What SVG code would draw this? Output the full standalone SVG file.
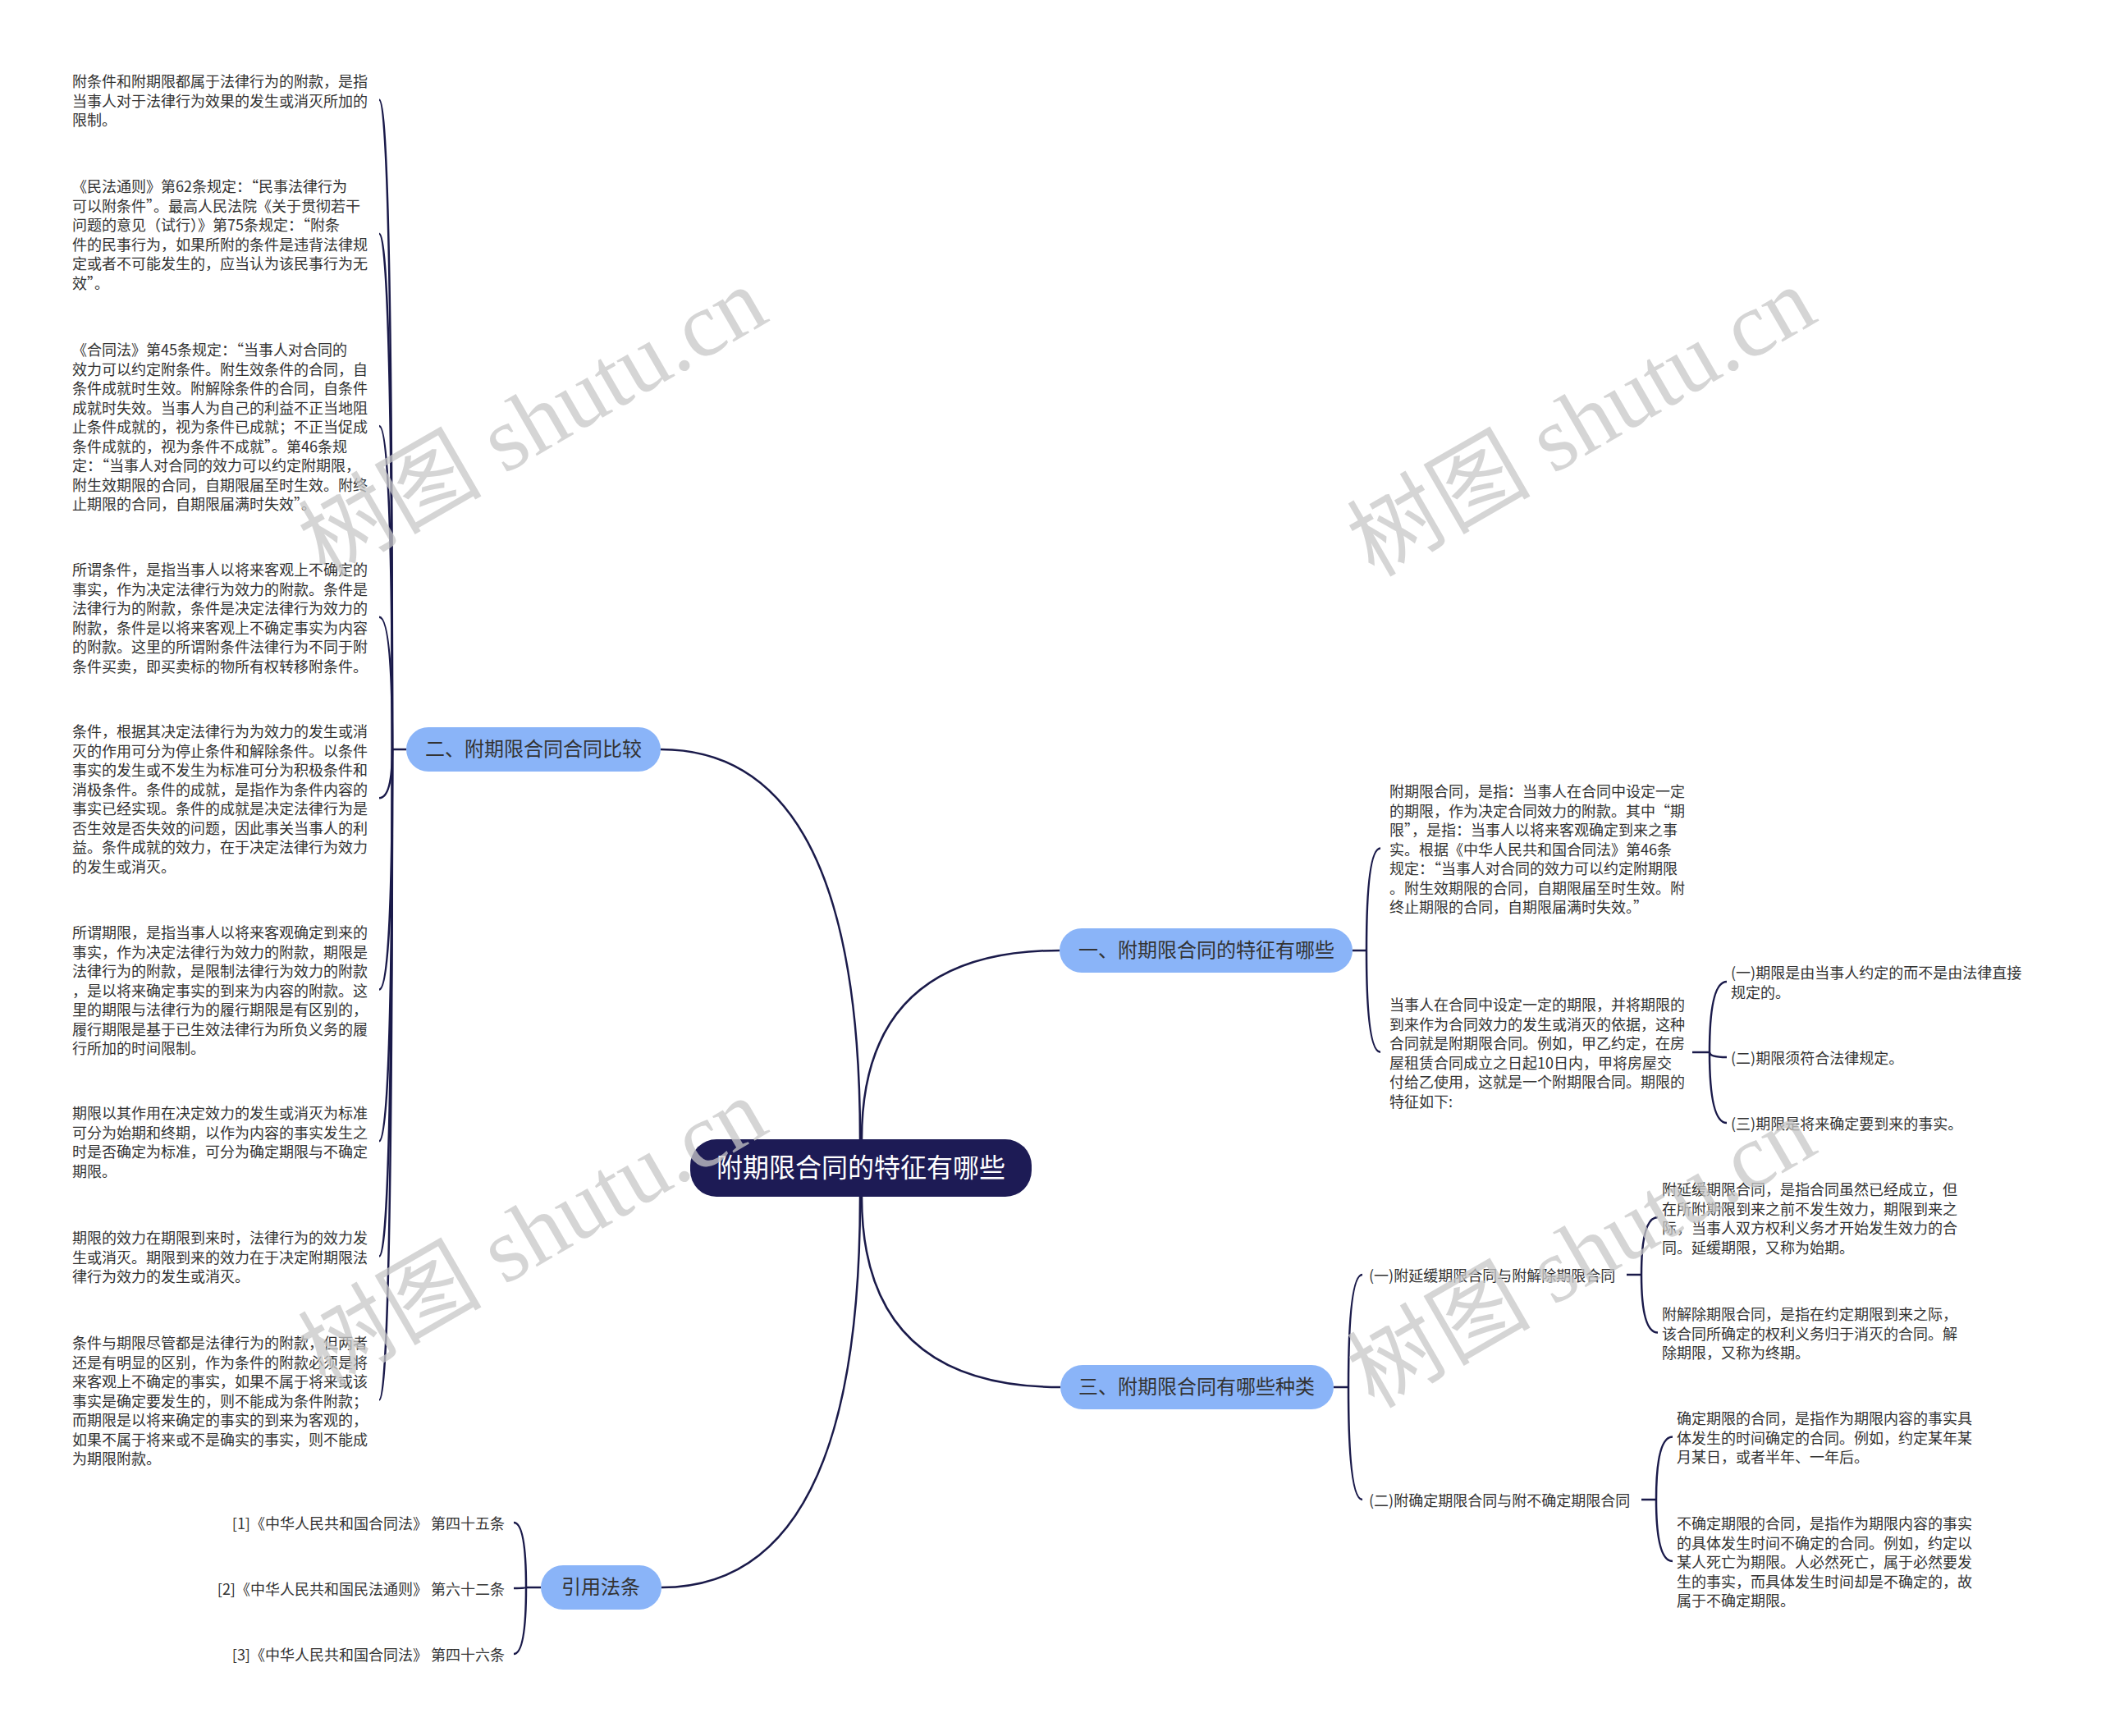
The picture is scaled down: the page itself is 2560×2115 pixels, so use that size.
<svg xmlns="http://www.w3.org/2000/svg" width="2560" height="2115" viewBox="0 0 2560 2115">
<style>
.t{font-family:"Noto Sans CJK SC","Noto Sans",sans-serif;font-size:18px;fill:#333;dominant-baseline:central}
.m{font-family:"Noto Sans CJK SC","Noto Sans",sans-serif;font-size:24px;fill:#333;dominant-baseline:central;text-anchor:middle}
.r{font-family:"Noto Sans CJK SC","Noto Sans",sans-serif;font-size:32px;fill:#fff;dominant-baseline:central;text-anchor:middle}
.mn{fill:#8ab4f8}
.c path{fill:none;stroke:#1a1a4a;stroke-width:2.5}
.wm{font-family:"Liberation Serif","Noto Sans CJK SC",serif;font-size:112px;fill:#c8c8c8;opacity:0.75;text-anchor:middle;dominant-baseline:central}
</style>
<rect width="2560" height="2115" fill="#fff"/>

<g class="c" id="connectors">
<path d="M1048 1388 Q1048 913 805 913"/>
<path d="M1050 1388 Q1050 1158 1291 1158"/>
<path d="M1050 1458 Q1050 1690 1292 1690"/>
<path d="M1048 1458 Q1048 1934 806 1934"/>
<path d="M495 913 L478 913"/>
<path d="M478 913 Q478 121.5 462 121.5"/>
<path d="M478 913 Q478 284.75 462 284.75"/>
<path d="M478 913 Q478 519 462 519"/>
<path d="M478 913 Q478 751.75 462 751.75"/>
<path d="M478 913 Q478 972.25 462 972.25"/>
<path d="M478 913 Q478 1205.5 462 1205.5"/>
<path d="M478 913 Q478 1390.25 462 1390.25"/>
<path d="M478 913 Q478 1530.5 462 1530.5"/>
<path d="M478 913 Q478 1705.5 462 1705.5"/>
<path d="M1648 1158 L1665 1158"/>
<path d="M1665 1158 Q1665 1033.5 1682 1033.5"/>
<path d="M1665 1158 Q1665 1281.75 1682 1281.75"/>
<path d="M2062 1282 L2083 1282"/>
<path d="M2083 1282 Q2083 1196 2104 1196"/>
<path d="M2083 1282 Q2083 1288 2104 1288"/>
<path d="M2083 1282 Q2083 1368 2104 1368"/>
<path d="M1625 1690 L1643 1690"/>
<path d="M1643 1690 Q1643 1553 1660 1553"/>
<path d="M1643 1690 Q1643 1827 1660 1827"/>
<path d="M1982 1553 L2000 1553"/>
<path d="M2000 1553 Q2000 1483 2020 1483"/>
<path d="M2000 1553 Q2000 1623.5 2020 1623.5"/>
<path d="M2000 1827 L2018 1827"/>
<path d="M2018 1827 Q2018 1750.5 2038 1750.5"/>
<path d="M2018 1827 Q2018 1902 2038 1902"/>
<path d="M659 1934 L641 1934"/>
<path d="M641 1934 Q641 1855 626 1855"/>
<path d="M641 1934 Q641 1935 626 1935"/>
<path d="M641 1934 Q641 2015 626 2015"/>
</g>

<g id="root">
<rect x="841" y="1388" width="416" height="70" rx="32" fill="#1d1b55"/>
<text class="r" x="1049" y="1420">附期限合同的特征有哪些</text>
</g>

<g id="n2">
<rect class="mn" x="495" y="886" width="310" height="54" rx="27"/>
<text class="m" x="650" y="910">二、附期限合同合同比较</text>
</g>
<g id="n1">
<rect class="mn" x="1291" y="1131" width="357" height="54" rx="27"/>
<text class="m" x="1470" y="1155">一、附期限合同的特征有哪些</text>
</g>
<g id="n3">
<rect class="mn" x="1292" y="1663" width="333" height="54" rx="27"/>
<text class="m" x="1458" y="1687">三、附期限合同有哪些种类</text>
</g>
<g id="n4">
<rect class="mn" x="659" y="1907" width="147" height="54" rx="27"/>
<text class="m" x="732" y="1931">引用法条</text>
</g>

<g id="p1"><text class="t" x="88" y="98"><tspan x="88" dy="0">附条件和附期限都属于法律行为的附款，是指</tspan><tspan x="88" dy="23.5">当事人对于法律行为效果的发生或消灭所加的</tspan><tspan x="88" dy="23.5">限制。</tspan></text></g>

<g id="p2"><text class="t" x="88" y="226"><tspan x="88" dy="0">《民法通则》第62条规定：“民事法律行为</tspan><tspan x="88" dy="23.5">可以附条件”。最高人民法院《关于贯彻若干</tspan><tspan x="88" dy="23.5">问题的意见（试行）》第75条规定：“附条</tspan><tspan x="88" dy="23.5">件的民事行为，如果所附的条件是违背法律规</tspan><tspan x="88" dy="23.5">定或者不可能发生的，应当认为该民事行为无</tspan><tspan x="88" dy="23.5">效”。</tspan></text></g>

<g id="p3"><text class="t" x="88" y="425"><tspan x="88" dy="0">《合同法》第45条规定：“当事人对合同的</tspan><tspan x="88" dy="23.5">效力可以约定附条件。附生效条件的合同，自</tspan><tspan x="88" dy="23.5">条件成就时生效。附解除条件的合同，自条件</tspan><tspan x="88" dy="23.5">成就时失效。当事人为自己的利益不正当地阻</tspan><tspan x="88" dy="23.5">止条件成就的，视为条件已成就；不正当促成</tspan><tspan x="88" dy="23.5">条件成就的，视为条件不成就”。第46条规</tspan><tspan x="88" dy="23.5">定：“当事人对合同的效力可以约定附期限，</tspan><tspan x="88" dy="23.5">附生效期限的合同，自期限届至时生效。附终</tspan><tspan x="88" dy="23.5">止期限的合同，自期限届满时失效”。</tspan></text></g>

<g id="p4"><text class="t" x="88" y="693"><tspan x="88" dy="0">所谓条件，是指当事人以将来客观上不确定的</tspan><tspan x="88" dy="23.5">事实，作为决定法律行为效力的附款。条件是</tspan><tspan x="88" dy="23.5">法律行为的附款，条件是决定法律行为效力的</tspan><tspan x="88" dy="23.5">附款，条件是以将来客观上不确定事实为内容</tspan><tspan x="88" dy="23.5">的附款。这里的所谓附条件法律行为不同于附</tspan><tspan x="88" dy="23.5">条件买卖，即买卖标的物所有权转移附条件。</tspan></text></g>

<g id="p5"><text class="t" x="88" y="890"><tspan x="88" dy="0">条件，根据其决定法律行为为效力的发生或消</tspan><tspan x="88" dy="23.5">灭的作用可分为停止条件和解除条件。以条件</tspan><tspan x="88" dy="23.5">事实的发生或不发生为标准可分为积极条件和</tspan><tspan x="88" dy="23.5">消极条件。条件的成就，是指作为条件内容的</tspan><tspan x="88" dy="23.5">事实已经实现。条件的成就是决定法律行为是</tspan><tspan x="88" dy="23.5">否生效是否失效的问题，因此事关当事人的利</tspan><tspan x="88" dy="23.5">益。条件成就的效力，在于决定法律行为效力</tspan><tspan x="88" dy="23.5">的发生或消灭。</tspan></text></g>

<g id="p6"><text class="t" x="88" y="1135"><tspan x="88" dy="0">所谓期限，是指当事人以将来客观确定到来的</tspan><tspan x="88" dy="23.5">事实，作为决定法律行为效力的附款，期限是</tspan><tspan x="88" dy="23.5">法律行为的附款，是限制法律行为效力的附款</tspan><tspan x="88" dy="23.5">，是以将来确定事实的到来为内容的附款。这</tspan><tspan x="88" dy="23.5">里的期限与法律行为的履行期限是有区别的，</tspan><tspan x="88" dy="23.5">履行期限是基于已生效法律行为所负义务的履</tspan><tspan x="88" dy="23.5">行所加的时间限制。</tspan></text></g>

<g id="p7"><text class="t" x="88" y="1355"><tspan x="88" dy="0">期限以其作用在决定效力的发生或消灭为标准</tspan><tspan x="88" dy="23.5">可分为始期和终期，以作为内容的事实发生之</tspan><tspan x="88" dy="23.5">时是否确定为标准，可分为确定期限与不确定</tspan><tspan x="88" dy="23.5">期限。</tspan></text></g>

<g id="p8"><text class="t" x="88" y="1507"><tspan x="88" dy="0">期限的效力在期限到来时，法律行为的效力发</tspan><tspan x="88" dy="23.5">生或消灭。期限到来的效力在于决定附期限法</tspan><tspan x="88" dy="23.5">律行为效力的发生或消灭。</tspan></text></g>

<g id="p9"><text class="t" x="88" y="1635"><tspan x="88" dy="0">条件与期限尽管都是法律行为的附款，但两者</tspan><tspan x="88" dy="23.5">还是有明显的区别，作为条件的附款必须是将</tspan><tspan x="88" dy="23.5">来客观上不确定的事实，如果不属于将来或该</tspan><tspan x="88" dy="23.5">事实是确定要发生的，则不能成为条件附款；</tspan><tspan x="88" dy="23.5">而期限是以将来确定的事实的到来为客观的，</tspan><tspan x="88" dy="23.5">如果不属于将来或不是确实的事实，则不能成</tspan><tspan x="88" dy="23.5">为期限附款。</tspan></text></g>

<g id="pa"><text class="t" x="1693" y="963"><tspan x="1693" dy="0">附期限合同，是指：当事人在合同中设定一定</tspan><tspan x="1693" dy="23.5">的期限，作为决定合同效力的附款。其中“期</tspan><tspan x="1693" dy="23.5">限”，是指：当事人以将来客观确定到来之事</tspan><tspan x="1693" dy="23.5">实。根据《中华人民共和国合同法》第46条</tspan><tspan x="1693" dy="23.5">规定：“当事人对合同的效力可以约定附期限</tspan><tspan x="1693" dy="23.5">。附生效期限的合同，自期限届至时生效。附</tspan><tspan x="1693" dy="23.5">终止期限的合同，自期限届满时失效。”</tspan></text></g>

<g id="pb"><text class="t" x="1693" y="1223"><tspan x="1693" dy="0">当事人在合同中设定一定的期限，并将期限的</tspan><tspan x="1693" dy="23.5">到来作为合同效力的发生或消灭的依据，这种</tspan><tspan x="1693" dy="23.5">合同就是附期限合同。例如，甲乙约定，在房</tspan><tspan x="1693" dy="23.5">屋租赁合同成立之日起10日内，甲将房屋交</tspan><tspan x="1693" dy="23.5">付给乙使用，这就是一个附期限合同。期限的</tspan><tspan x="1693" dy="23.5">特征如下:</tspan></text></g>

<g id="pb1"><text class="t" x="2109" y="1184"><tspan x="2109" dy="0">(一)期限是由当事人约定的而不是由法律直接</tspan><tspan x="2109" dy="23.5">规定的。</tspan></text></g>
<g id="pb2"><text class="t" x="2109" y="1288">(二)期限须符合法律规定。</text></g>
<g id="pb3"><text class="t" x="2109" y="1368">(三)期限是将来确定要到来的事实。</text></g>

<g id="k1"><text class="t" x="1668" y="1553">(一)附延缓期限合同与附解除期限合同</text></g>
<g id="k1a"><text class="t" x="2025" y="1448"><tspan x="2025" dy="0">附延缓期限合同，是指合同虽然已经成立，但</tspan><tspan x="2025" dy="23.5">在所附期限到来之前不发生效力，期限到来之</tspan><tspan x="2025" dy="23.5">际，当事人双方权利义务才开始发生效力的合</tspan><tspan x="2025" dy="23.5">同。延缓期限，又称为始期。</tspan></text></g>
<g id="k1b"><text class="t" x="2025" y="1600"><tspan x="2025" dy="0">附解除期限合同，是指在约定期限到来之际，</tspan><tspan x="2025" dy="23.5">该合同所确定的权利义务归于消灭的合同。解</tspan><tspan x="2025" dy="23.5">除期限，又称为终期。</tspan></text></g>

<g id="k2"><text class="t" x="1668" y="1827">(二)附确定期限合同与附不确定期限合同</text></g>
<g id="k2a"><text class="t" x="2043" y="1727"><tspan x="2043" dy="0">确定期限的合同，是指作为期限内容的事实具</tspan><tspan x="2043" dy="23.5">体发生的时间确定的合同。例如，约定某年某</tspan><tspan x="2043" dy="23.5">月某日，或者半年、一年后。</tspan></text></g>
<g id="k2b"><text class="t" x="2043" y="1855"><tspan x="2043" dy="0">不确定期限的合同，是指作为期限内容的事实</tspan><tspan x="2043" dy="23.5">的具体发生时间不确定的合同。例如，约定以</tspan><tspan x="2043" dy="23.5">某人死亡为期限。人必然死亡，属于必然要发</tspan><tspan x="2043" dy="23.5">生的事实，而具体发生时间却是不确定的，故</tspan><tspan x="2043" dy="23.5">属于不确定期限。</tspan></text></g>

<g id="ref1"><text class="t" x="615" y="1855" text-anchor="end">[1]《中华人民共和国合同法》 第四十五条</text></g>
<g id="ref2"><text class="t" x="615" y="1935" text-anchor="end">[2]《中华人民共和国民法通则》 第六十二条</text></g>
<g id="ref3"><text class="t" x="615" y="2015" text-anchor="end">[3]《中华人民共和国合同法》 第四十六条</text></g>

<g id="watermarks">
<text class="wm" transform="translate(649 514) rotate(-30)">树图 shutu.cn</text>
<text class="wm" transform="translate(1927 514) rotate(-30)">树图 shutu.cn</text>
<text class="wm" transform="translate(649 1502) rotate(-30)">树图 shutu.cn</text>
<text class="wm" transform="translate(1927 1527) rotate(-30)">树图 shutu.cn</text>
</g>
</svg>
